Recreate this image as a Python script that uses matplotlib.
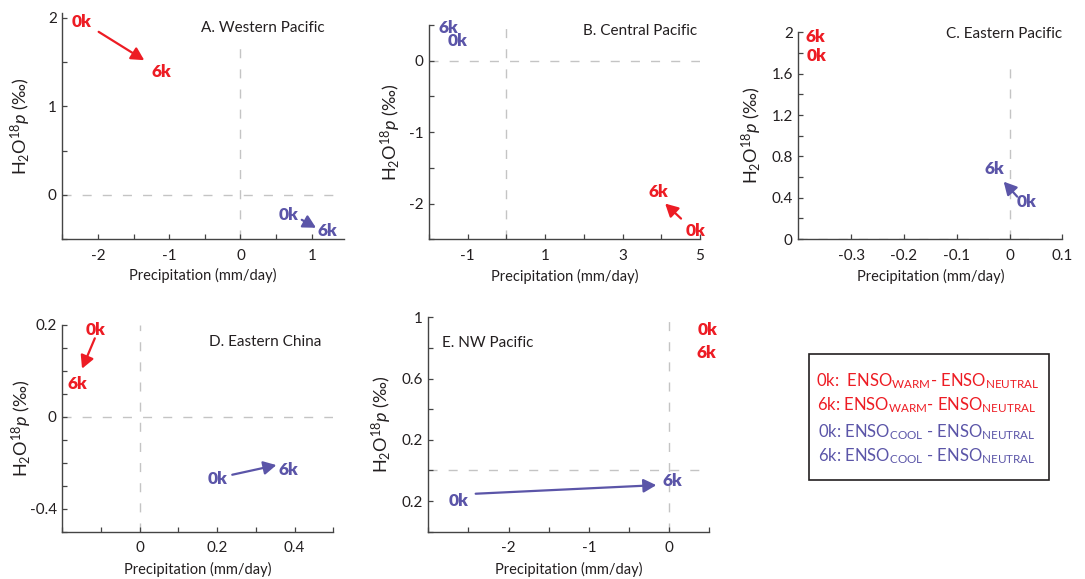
import matplotlib
matplotlib.use('Agg')
import matplotlib.pyplot as plt
from matplotlib.patches import Rectangle
from matplotlib.ticker import FixedLocator, FixedFormatter, MultipleLocator

plt.rcParams['font.family'] = ['Lato', 'DejaVu Sans']
plt.rcParams['mathtext.fontset'] = 'custom'
plt.rcParams['mathtext.rm'] = 'Lato'
plt.rcParams['mathtext.it'] = 'Lato:italic'
plt.rcParams['mathtext.bf'] = 'Lato:bold'
plt.rcParams['mathtext.default'] = 'regular'

RED = '#ED1C24'
BLUE = '#5B55A8'
TXT = '#231F20'
DASH = '#C4C4C4'

# ---------------- data ----------------
titles = ['A. Western Pacific', 'B. Central Pacific', 'C. Eastern Pacific',
          'D. Eastern China', 'E. NW Pacific']
xlims = [(-2.5, 1.45), (-2, 5), (-0.4, 0.1), (-0.2, 0.5), (-3, 0.5)]
ylims = [(-0.5, 2.05), (-2.5, 0.5), (0, 2), (-0.25, 0.2), (-0.4, 1.0)]

xtick_pos = [[-2, -1, 0, 1], [-1, 1, 3, 5], [-0.3, -0.2, -0.1, 0, 0.1], [0, 0.2, 0.4], [-2, -1, 0]]
xtick_lab = [['-2', '-1', '0', '1'], ['-1', '1', '3', '5'], ['-0.3', '-0.2', '-0.1', '0', '0.1'],
             ['0', '0.2', '0.4'], ['-2', '-1', '0']]
xminor = [0.5, 1, None, 0.1, 0.5]
ytick_pos = [[0, 1, 2], [-2, -1, 0], [0, 0.4, 0.8, 1.2, 1.6, 2], [-0.2, 0, 0.2], [-0.2, 0.2, 0.6, 1.0]]
ytick_lab = [['0', '1', '2'], ['-2', '-1', '0'], ['0', '0.4', '0.8', '1.2', '1.6', '2'],
             ['-0.4', '0', '0.2'], ['0.2', '0.2', '0.6', '1']]
yminor = [0.5, 0.5, 0.2, 0.05, 0.2]

# ENSO warm (red) arrows: (x0, y0, x1, y1) from 0k to 6k
warm_arrows = [(-1.99, 1.84, -1.35, 1.52), (4.51, -2.21, 4.10, -2.00), None,
               (-0.116, 0.171, -0.149, 0.105), None]
cool_arrows = [(0.86, -0.28, 1.06, -0.37), None, (0.0146, 0.41, -0.011, 0.555),
               (0.239, -0.126, 0.353, -0.105), (-2.41, -0.152, -0.16, -0.096)]
# label positions (0k, 6k)
warm_labels = [((-2.23, 1.95), (-1.11, 1.39)), ((4.88, -2.38), (3.93, -1.84)),
               ((-0.365, 1.775), (-0.367, 1.96)), ((-0.114, 0.189), (-0.162, 0.071)),
               ((0.48, 0.92), (0.46, 0.765))]
cool_labels = [((0.675, -0.225), (1.22, -0.41)), ((-1.27, 0.27), (-1.5, 0.46)),
               ((0.032, 0.36), (-0.0285, 0.675)), ((0.202, -0.136), (0.383, -0.115)),
               ((-2.62, -0.20), (0.045, -0.07))]
vline_top = [1.67, None, 1.68, None, None]

legend_lines = [
    (r'0k:  ENSO$_{WARM}$- ENSO$_{NEUTRAL}$', RED),
    (r'6k: ENSO$_{WARM}$- ENSO$_{NEUTRAL}$', RED),
    (r'0k: ENSO$_{COOL}$ - ENSO$_{NEUTRAL}$', BLUE),
    (r'6k: ENSO$_{COOL}$ - ENSO$_{NEUTRAL}$', BLUE),
]

# ---------------- layout (pixels) ----------------
W, H = 1085, 579
boxes = [(62.3, 13.2, 343.8, 239.3), (429, 25, 700, 239.3), (798.3, 32.4, 1062.3, 239),
         (62.3, 325, 333.3, 531.7), (428.3, 317.3, 709.3, 531.7)]
title_pos = [(0.933, 0.933, 'right'), (0.988, 0.973, 'right'), (0.998, 0.992, 'right'),
             (0.955, 0.919, 'right'), (0.048, 0.879, 'left')]
ylab_x = [33, 403, 764, 34, 394]
xlab_top = [268, 269, 269, 562, 562]

fig = plt.figure(figsize=(W / 100, H / 100), dpi=100)

for i in range(5):
    l, t, r, b = boxes[i]
    ax = fig.add_axes([l / W, 1 - b / H, (r - l) / W, (b - t) / H])
    ax.set_xlim(*xlims[i])
    ax.set_ylim(*ylims[i])
    for s in ['top', 'right']:
        ax.spines[s].set_visible(False)
    for s in ['left', 'bottom']:
        ax.spines[s].set_color('#444444')
        ax.spines[s].set_linewidth(1.0)
        ax.spines[s].set_zorder(1)
    ax.xaxis.set_major_locator(FixedLocator(xtick_pos[i]))
    ax.xaxis.set_major_formatter(FixedFormatter(xtick_lab[i]))
    ax.yaxis.set_major_locator(FixedLocator(ytick_pos[i]))
    ax.yaxis.set_major_formatter(FixedFormatter(ytick_lab[i]))
    if xminor[i]:
        ax.xaxis.set_minor_locator(MultipleLocator(xminor[i]))
    ax.yaxis.set_minor_locator(MultipleLocator(yminor[i]))
    ax.tick_params(which='both', direction='in', color='#444444', width=0.9, length=3.5)
    ax.tick_params(axis='x', which='both', pad=7, labelsize=11, labelcolor=TXT)
    ax.tick_params(axis='y', which='both', pad=4, labelsize=11, labelcolor=TXT)

    # reference dashed lines
    ax.axhline(0, color=DASH, lw=1.0, dashes=(6.5, 8), zorder=0)
    if vline_top[i] is None:
        ax.axvline(0, color=DASH, lw=1.0, dashes=(6.5, 8), zorder=0)
    else:
        ax.plot([0, 0], [ylims[i][0], vline_top[i]], color=DASH, lw=1.0,
                dashes=(6.5, 8), zorder=0)

    for arr, col in [(warm_arrows[i], RED), (cool_arrows[i], BLUE)]:
        if arr is not None:
            ax.annotate('', xy=(arr[2], arr[3]), xytext=(arr[0], arr[1]),
                        arrowprops=dict(arrowstyle='-|>,head_length=0.45,head_width=0.24',
                                        color=col, lw=1.6, shrinkA=0, shrinkB=0,
                                        mutation_scale=17))
    for labs, col in [(warm_labels[i], RED), (cool_labels[i], BLUE)]:
        for txt, (x, y) in zip(['0k', '6k'], labs):
            ax.text(x, y, txt, color=col, fontsize=12.5, fontweight='heavy',
                    ha='center', va='center', clip_on=False)

    tx, ty, ha = title_pos[i]
    ax.text(tx, ty, titles[i], transform=ax.transAxes, ha=ha, va='center',
            fontsize=11, color=TXT)

    ax.set_xlabel('Precipitation (mm/day)', fontsize=10.5, color=TXT)
    ax.set_ylabel(r'H$_2$O$^{18}$$\mathit{p}$ (‰)', fontsize=13, color=TXT)
    ax.xaxis.set_label_coords(0.5, -(xlab_top[i] - b) / (b - t))
    ax.yaxis.set_label_coords((ylab_x[i] - l) / (r - l), 0.5)

# legend box
fig.patches.append(Rectangle((809 / W, 1 - 480 / H), (1049.3 - 809) / W, (480 - 354) / H,
                             transform=fig.transFigure, fill=False, edgecolor='#231F20',
                             lw=1.2))
leg_y = [386.7, 410.7, 437.3, 461.7]
leg_x = [816, 816.7, 818, 818]
for (txt, col), y, x in zip(legend_lines, leg_y, leg_x):
    fig.text(x / W, 1 - y / H, txt, color=col, fontsize=12, ha='left', va='baseline')

fig.savefig('out.png', dpi=100)
